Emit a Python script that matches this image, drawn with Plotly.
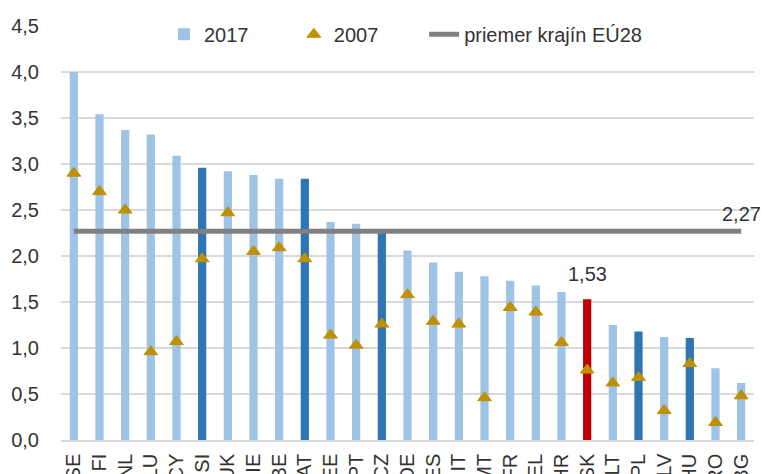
import plotly.graph_objects as go

countries = ["SE", "FI", "NL", "LU", "CY", "SI", "UK", "IE", "BE", "AT", "EE", "PT", "CZ",
             "DE", "ES", "IT", "MT", "FR", "EL", "HR", "SK", "LT", "PL", "LV", "HU", "RO", "BG"]
values_2017 = [4.00, 3.54, 3.37, 3.32, 3.09, 2.96, 2.92, 2.88, 2.84, 2.84, 2.37, 2.35, 2.26,
               2.06, 1.93, 1.83, 1.78, 1.73, 1.68, 1.61, 1.53, 1.25, 1.18, 1.12, 1.11, 0.78, 0.62]
values_2007 = [2.90, 2.70, 2.50, 0.96, 1.07, 1.97, 2.47, 2.05, 2.09, 1.97, 1.14, 1.03, 1.26,
               1.58, 1.29, 1.26, 0.46, 1.44, 1.39, 1.06, 0.76, 0.62, 0.68, 0.32, 0.83, 0.19, 0.48]
eu28_average = 2.27
highlight_dark = ["SI", "AT", "CZ", "PL", "HU"]
highlight_red = ["SK"]

LIGHT = "#9DC3E6"
DARK = "#2E75B6"
RED = "#C00000"
GOLD = "#BF9000"
GREY = "#808080"
FONT = "Liberation Sans, Arial, sans-serif"
TXT = "#333333"
FS = 20

bar_colors = [RED if c in highlight_red else DARK if c in highlight_dark else LIGHT for c in countries]

fig = go.Figure()
fig.add_trace(go.Bar(x=countries, y=values_2017, name="2017", legend="legend",
                     marker=dict(color=bar_colors, line=dict(width=0))))
fig.add_trace(go.Scatter(x=countries, y=values_2007, name="2007", mode="markers", legend="legend2",
                         marker=dict(symbol="triangle-up", size=12, color=GOLD, line=dict(color=GOLD, width=1))))
fig.add_trace(go.Scatter(x=countries, y=[eu28_average] * len(countries), name="priemer krajín EÚ28",
                         mode="lines", legend="legend3", line=dict(color=GREY, width=5)))

def fmt(v):
    return f"{v:.2f}".replace(".", ",")

sk_idx = countries.index("SK")
fig.add_annotation(x=countries[-1], y=eu28_average, text=fmt(eu28_average), showarrow=False,
                   yanchor="middle", yshift=17, font=dict(size=FS, color=TXT, family=FONT))
fig.add_annotation(x="SK", y=values_2017[sk_idx], text=fmt(values_2017[sk_idx]), showarrow=False,
                   yanchor="middle", yshift=25, font=dict(size=FS, color=TXT, family=FONT))

leg = dict(orientation="h", xanchor="left", y=0.98, yanchor="middle",
           bgcolor="rgba(0,0,0,0)", font=dict(size=FS, color=TXT, family=FONT))

fig.update_layout(
    width=766, height=474,
    margin=dict(l=61, r=12, t=26, b=34, autoexpand=False),
    plot_bgcolor="white", paper_bgcolor="white",
    separators=", ",
    bargap=0.68,
    font=dict(family=FONT, size=FS, color=TXT),
    showlegend=True,
    legend=dict(leg, x=0.1486),
    legend2=dict(leg, x=0.336),
    legend3=dict(leg, x=0.524),
)
fig.update_xaxes(tickangle=-90, showgrid=False, showline=True, linecolor="#D9D9D9", linewidth=1.5,
                 ticks="", tickfont=dict(size=FS, color=TXT, family=FONT), automargin=False,
                 ticklabelstandoff=4, range=[-0.5, len(countries) - 0.5])
fig.update_yaxes(range=[0, 4.5], dtick=0.5, tickformat=".1f", showgrid=True, gridcolor="#D9D9D9",
                 gridwidth=1.5, zeroline=False, showline=False, ticks="",
                 tickfont=dict(size=FS, color=TXT, family=FONT), automargin=False,
                 ticklabelstandoff=21)

# remove the page's default 8px body margin so the 766x474 figure fills the window exactly
fig.write_html("out.html", config={"displayModeBar": False},
               post_script="document.body.style.margin='0';")
